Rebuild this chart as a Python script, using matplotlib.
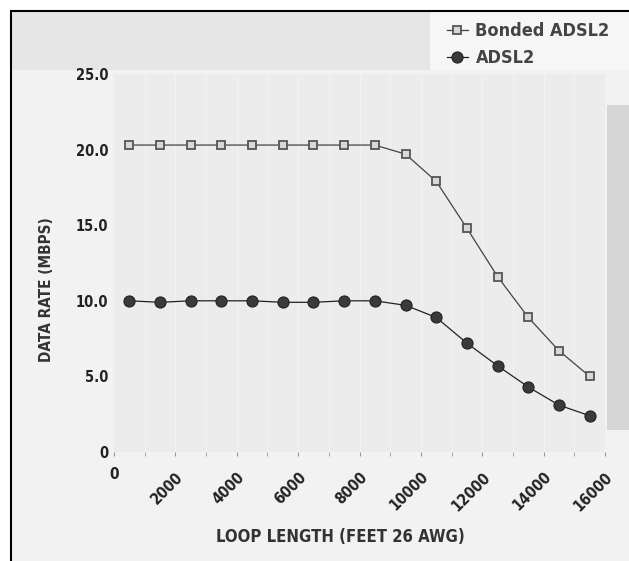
import matplotlib.pyplot as plt
from matplotlib.lines import Line2D
from matplotlib.patches import Rectangle
from matplotlib.transforms import ScaledTranslation

# data
loop_length = [500, 1500, 2500, 3500, 4500, 5500, 6500, 7500, 8500,
               9500, 10500, 11500, 12500, 13500, 14500, 15500]
bonded_adsl2 = [20.3, 20.3, 20.3, 20.3, 20.3, 20.3, 20.3, 20.3, 20.3,
                19.7, 17.9, 14.8, 11.6, 8.9, 6.7, 5.0]
adsl2 = [10.0, 9.9, 10.0, 10.0, 10.0, 9.9, 9.9, 10.0, 10.0,
         9.7, 8.9, 7.2, 5.7, 4.3, 3.1, 2.4]

y_ticks = [0, 5, 10, 15, 20, 25]
y_tick_labels = ['0', '5.0', '10.0', '15.0', '20.0', '25.0']
x_ticks = [0, 2000, 4000, 6000, 8000, 10000, 12000, 14000, 16000]
x_tick_labels = ['0', '2000', '4000', '6000', '8000', '10000', '12000', '14000', '16000']

plt.rcParams['font.family'] = 'DejaVu Sans'
plt.rcParams['font.stretch'] = 'condensed'

W, H = 629, 561
fig = plt.figure(figsize=(W / 100, H / 100), dpi=100, facecolor='white')

# background panels, given in pixels from the top-left corner
def px_rect(x0, y0, x1, y1, color):
    fig.patches.append(Rectangle((x0 / W, 1 - y1 / H), (x1 - x0) / W, (y1 - y0) / H,
                                 transform=fig.transFigure, facecolor=color,
                                 edgecolor='none', zorder=-5))

px_rect(11, 11, W, H, '#f2f2f2')
px_rect(11, 11, 430, 70, '#e6e6e6')
px_rect(430, 11, W, 70, '#f6f6f6')
px_rect(607, 105, W, 430, '#d6d6d6')

# black frame on the left and top
fig.add_artist(Line2D([11 / W, 11 / W], [0, 1 - 11 / H], color='black', lw=1.5,
                      transform=fig.transFigure))
fig.add_artist(Line2D([11 / W, 1], [1 - 11 / H, 1 - 11 / H], color='black', lw=1.5,
                      transform=fig.transFigure))

ax = fig.add_axes([114 / W, 1 - 452 / H, (605 - 114) / W, (452 - 74) / H])
ax.set_zorder(2)
ax.set_facecolor('#ececec')
ax.set_xlim(0, 16000)
ax.set_ylim(0, 25)

for x in range(1000, 16000, 1000):
    ax.axvline(x, color='white', lw=0.8, alpha=0.35, zorder=1)

ax.plot(loop_length, bonded_adsl2, color='#444444', lw=0.9, marker='s', ms=6,
        mfc='#d8d8d8', mec='#555555', mew=1.3, zorder=3, label='Bonded ADSL2')
ax.plot(loop_length, adsl2, color='#222222', lw=0.9, marker='o', ms=8,
        mfc='#3a3a3a', mec='#222222', mew=0.8, zorder=3, label='ADSL2')

for s in ax.spines.values():
    s.set_visible(False)

ax.set_yticks(y_ticks)
ax.set_yticklabels(y_tick_labels, fontsize=10.5, fontweight='bold', color='#222222')
ax.tick_params(axis='y', length=0, pad=4)

ax.set_xticks(range(0, 16001, 1000), minor=True)
ax.set_xticks(x_ticks)
ax.set_xticklabels(x_tick_labels, fontsize=11, fontweight='bold', color='#222222')
ax.tick_params(axis='x', which='both', length=3, color='#999999', pad=8)
shift = ScaledTranslation(0 / 100, -2 / 100, fig.dpi_scale_trans)
for i, lab in enumerate(ax.get_xticklabels()):
    if i == 0:
        lab.set_rotation(0)
        lab.set_ha('center')
    else:
        lab.set_rotation(45)
        lab.set_ha('right')
        lab.set_va('top')
        lab.set_rotation_mode('anchor')
        lab.set_transform(lab.get_transform() + shift)

fig.text(47 / W, 1 - 290 / H, 'DATA RATE (MBPS)', rotation=90, ha='center', va='center',
         fontsize=11, fontweight='bold', color='#333333')
fig.text(340 / W, 1 - 537 / H, 'LOOP LENGTH (FEET 26 AWG)', ha='center', va='center',
         fontsize=12, fontweight='bold', color='#333333')

handles, labels = ax.get_legend_handles_labels()
fig.legend(handles, labels, loc='upper right', bbox_to_anchor=(626 / W, 1 - 6 / H),
           frameon=False, handlelength=1.2, handletextpad=0.4, labelspacing=0.5,
           prop={'weight': 'bold', 'size': 13, 'stretch': 'condensed'},
           labelcolor='#444444')

fig.savefig('out.png', dpi=100, facecolor=fig.get_facecolor())
